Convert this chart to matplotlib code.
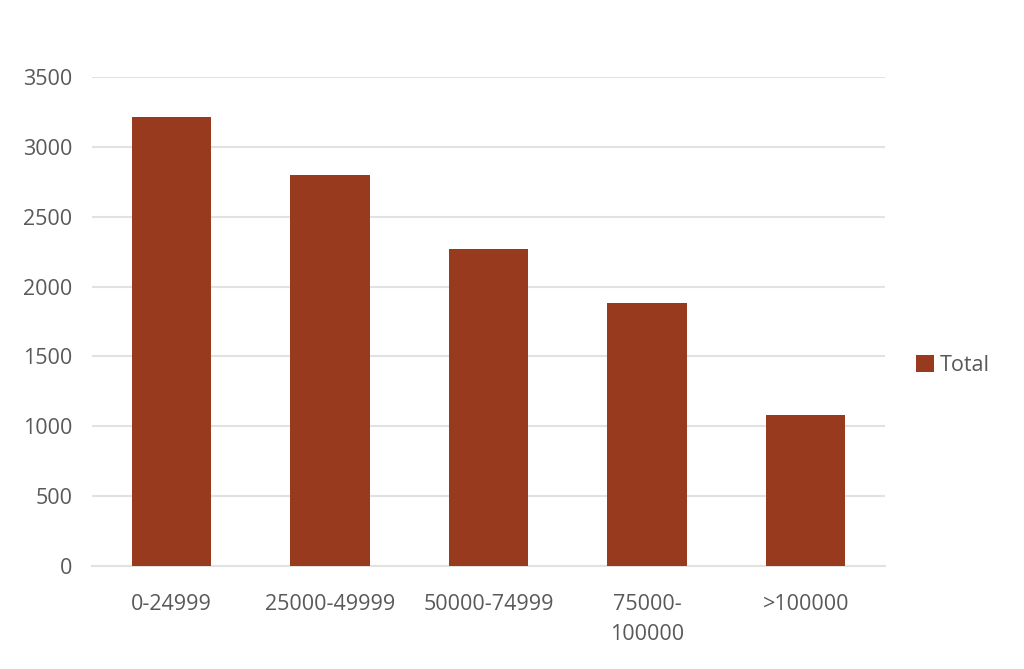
import numpy as np
import matplotlib.pyplot as plt

plt.rcParams['font.family'] = ['Open Sans', 'DejaVu Sans']

# Data
categories = ["0-24999", "25000-49999", "50000-74999", "75000-\n100000", ">100000"]
totals = [3210, 2800, 2270, 1880, 1080]
yticks = [0, 500, 1000, 1500, 2000, 2500, 3000, 3500]

bar_color = "#983A1E"
text_color = "#595959"
grid_color = "#E2E2E2"

fig = plt.figure(figsize=(10.24, 6.69), dpi=100)
ax = fig.add_axes([0.0898, 0.154, 0.7745, 0.731])

x = np.arange(len(categories))
ax.bar(x, totals, width=0.5, color=bar_color, label="Total", zorder=3)

ax.set_xlim(-0.5, len(categories) - 0.5)
ax.set_ylim(0, 3500)
ax.set_yticks(yticks)
ax.set_xticks(x)
ax.set_xticklabels(categories, linespacing=1.55)
ax.yaxis.grid(True, color=grid_color, linewidth=1.5, zorder=0)

for side in ["top", "right", "left"]:
    ax.spines[side].set_visible(False)
ax.spines["bottom"].set_color(grid_color)
ax.spines["bottom"].set_linewidth(1.5)

ax.tick_params(axis="both", length=0, colors=text_color, labelsize=15.5)
ax.tick_params(axis="y", pad=14)
ax.tick_params(axis="x", pad=20)

leg = ax.legend(loc="center left", bbox_to_anchor=(1.015, 0.41), frameon=False,
                handlelength=0.8, handleheight=0.8, handletextpad=0.3,
                fontsize=15.5)
for t in leg.get_texts():
    t.set_color(text_color)

fig.savefig("out.png", dpi=100)
